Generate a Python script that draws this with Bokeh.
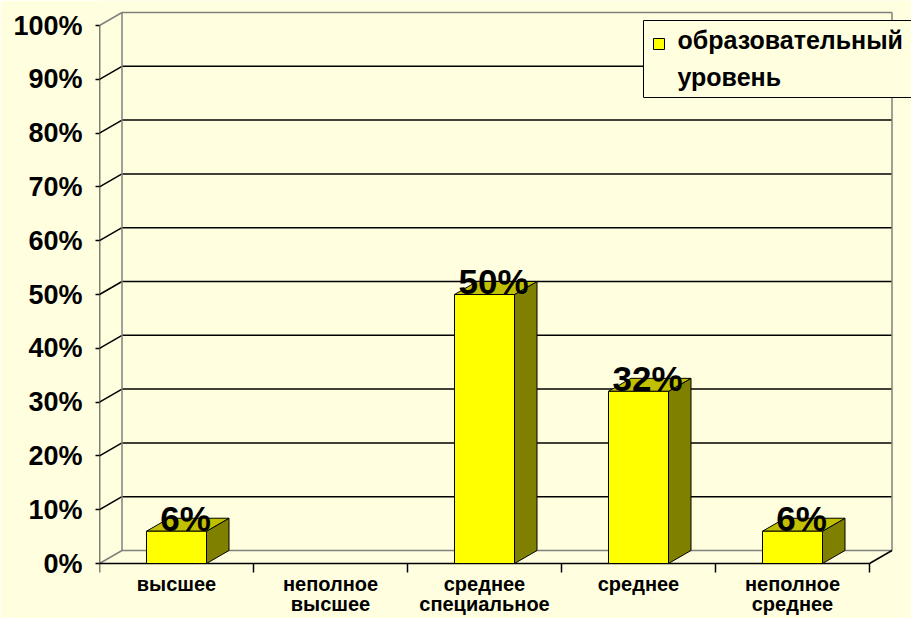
from bokeh.plotting import figure
from bokeh.models import Range1d, FixedTicker, LinearAxis, PrintfTickFormatter
from bokeh.embed import file_html
from bokeh.resources import INLINE
from bokeh.core.properties import value

# ---------------- data ----------------
categories = ["высшее", "неполное\nвысшее", "среднее\nспециальное", "среднее", "неполное\nсреднее"]
shares = [6, 0, 50, 32, 6]
y_ticks = [0, 10, 20, 30, 40, 50, 60, 70, 80, 90, 100]
series_name_lines = ["образовательный", "уровень"]

# ---------------- style / layout ----------------
BG = "#FFFFE0"
YELLOW = "#FFFF00"
TOP = "#C0C000"
SIDE = "#808000"
GRAY = "#808080"
FONT = "Liberation Sans"

W, H = 911, 618
LEFT = 99            # px of left border (frame starts at front y axis)
ZERO_Y = 563         # px from top of canvas where 0 % lies
X_PX = 154.0         # px per category
Y_PX = 5.38          # px per percent
DX = 22.5 / X_PX     # 3-D depth, in category units
DY = 13.0 / Y_PX     # 3-D depth, in percent units
BW = 60.0 / X_PX     # bar width
N = len(categories)

LABEL_SIZE = 35
LEGEND_SIZE = 25


def px_x(sx):
    return (sx - LEFT) / X_PX


def px_y(sy):
    return (ZERO_Y - sy) / Y_PX


p = figure(width=W, height=H,
           x_range=Range1d(0, (W - LEFT) / X_PX),
           y_range=Range1d(-(H - ZERO_Y) / Y_PX, ZERO_Y / Y_PX),
           output_backend="svg", toolbar_location=None,
           x_axis_location=None, y_axis_location="left",
           min_border_left=LEFT, min_border_right=0, min_border_top=0, min_border_bottom=0,
           background_fill_color=BG, border_fill_color=BG, outline_line_color=None)
p.xgrid.visible = False
p.ygrid.visible = False

# ---- y axis ----
ya = p.yaxis[0]
ya.ticker = FixedTicker(ticks=y_ticks, minor_ticks=[])
ya.formatter = PrintfTickFormatter(format="%d%%")
ya.axis_line_color = None
ya.major_tick_out = 4
ya.major_tick_in = 0
ya.minor_tick_out = 0
ya.minor_tick_in = 0
ya.major_tick_line_color = "black"
ya.major_tick_line_width = 1.5
ya.major_label_standoff = 13
ya.major_label_text_font = FONT
ya.major_label_text_font_style = "bold"
ya.major_label_text_font_size = "27px"
ya.major_label_text_color = "black"

# ---- x axis (at y = 0) ----
centers = [i + 0.5 for i in range(N)]
xa = LinearAxis(fixed_location=0,
                ticker=FixedTicker(ticks=centers, minor_ticks=list(range(N + 1))),
                major_label_overrides={c: lab for c, lab in zip(centers, categories)},
                axis_line_color=None,
                major_tick_out=0, major_tick_in=0,
                minor_tick_out=9, minor_tick_in=0,
                minor_tick_line_color="black", minor_tick_line_width=1.5,
                major_label_standoff=0,
                major_label_text_font=FONT,
                major_label_text_font_style="bold",
                major_label_text_font_size="20px",
                major_label_text_line_height=0.95,
                major_label_text_color="black")
p.add_layout(xa, "below")

# ---- walls: gridlines ----
inner = y_ticks[1:-1]
p.segment(x0=[0] * len(inner), y0=inner, x1=[DX] * len(inner), y1=[v + DY for v in inner],
          line_color="black", line_width=1.5)
p.segment(x0=[DX] * len(inner), y0=[v + DY for v in inner], x1=[N + DX] * len(inner),
          y1=[v + DY for v in inner], line_color="black", line_width=1.5)

ymin, ymax = y_ticks[0], y_ticks[-1]
# gray wall edges
gx0 = [DX, N + DX, DX, DX, 0, 0]
gy0 = [ymin + DY, ymin + DY, ymax + DY, ymin + DY, ymin, ymax]
gx1 = [DX, N + DX, N + DX, N + DX, DX, DX]
gy1 = [ymax + DY, ymax + DY, ymax + DY, ymin + DY, ymin + DY, ymax + DY]
p.segment(x0=gx0, y0=gy0, x1=gx1, y1=gy1, line_color=GRAY, line_width=1.5)
# black front edges
p.segment(x0=[0, 0, N], y0=[ymin, ymin, ymin], x1=[0, N, N + DX], y1=[ymax, ymin, ymin + DY],
          line_color="black", line_width=1.5)

# ---- bars ----
fx, fy, tx, ty, sx, sy = [], [], [], [], [], []
lx, ly, lt = [], [], []
for i, v in enumerate(shares):
    if v <= 0:
        continue
    x0 = i + 0.5 - BW / 2
    x1 = i + 0.5 + BW / 2
    fx.append([x0, x1, x1, x0]); fy.append([0, 0, v, v])
    tx.append([x0, x1, x1 + DX, x0 + DX]); ty.append([v, v, v + DY, v + DY])
    sx.append([x1, x1 + DX, x1 + DX, x1]); sy.append([0, DY, v + DY, v])
    lx.append(i + 0.5 + DX * 0.4); ly.append(v); lt.append(f"{v}%")

p.patches(xs=sx, ys=sy, fill_color=SIDE, line_color="black", line_width=1)
p.patches(xs=tx, ys=ty, fill_color=TOP, line_color="black", line_width=1)
p.patches(xs=fx, ys=fy, fill_color=YELLOW, line_color="black", line_width=1)

p.text(x=lx, y=ly, text=lt, text_font=value(FONT), text_font_size=f"{LABEL_SIZE}px",
       text_font_style="bold", text_align="center", text_baseline="middle",
       y_offset=-round(0.35 * LABEL_SIZE) - 1, text_color="black")

# ---- legend (drawn) ----
p.quad(left=[px_x(643)], right=[px_x(960)], top=[px_y(20)], bottom=[px_y(97)],
       fill_color=BG, line_color="black", line_width=1)
p.quad(left=[px_x(653)], right=[px_x(664)], top=[px_y(38)], bottom=[px_y(49)],
       fill_color=YELLOW, line_color="black", line_width=1)
p.text(x=[px_x(677), px_x(677)], y=[px_y(48), px_y(85)], text=series_name_lines,
       text_font=value(FONT), text_font_style="bold", text_font_size=f"{LEGEND_SIZE}px",
       text_align="left", text_baseline="middle", y_offset=-round(0.35 * LEGEND_SIZE),
       text_color="black")

open("out.html", "w").write(file_html(p, INLINE))
